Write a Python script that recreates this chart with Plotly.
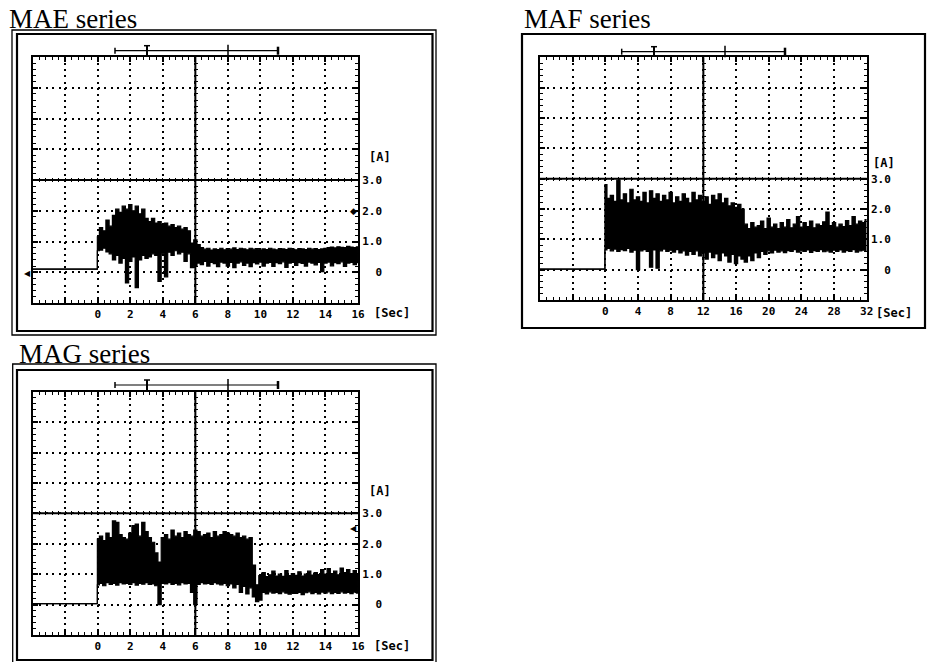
#!/usr/bin/env python3
"""
Motor current recorded for the MAE, MAF and MAG series.
Three scope screens redrawn with Plotly: the trace is kept as its
peak / valley envelope and filled black, like the dense scope sampling.
"""

import plotly.graph_objects as go

W, H = 928, 662

# sample times [Sec] after switch-on
SEC16 = [0.0, 0.2, 0.4, 0.6, 0.8, 1.0, 1.2, 1.4, 1.6, 1.8,
         2.0, 2.2, 2.4, 2.6, 2.8, 3.0, 3.2, 3.4, 3.6, 3.8,
         4.0, 4.2, 4.4, 4.6, 4.8, 5.0, 5.2, 5.4, 5.6, 5.8,
         6.0, 6.2, 6.4, 6.6, 6.8, 7.0, 7.2, 7.4, 7.6, 7.8,
         8.0, 8.2, 8.4, 8.6, 8.8, 9.0, 9.2, 9.4, 9.6, 9.8,
         10.0, 10.2, 10.4, 10.6, 10.8, 11.0, 11.2, 11.4, 11.6, 11.8,
         12.0, 12.2, 12.4, 12.6, 12.8, 13.0, 13.2, 13.4, 13.6, 13.8,
         14.0, 14.2, 14.4, 14.6, 14.8, 15.0, 15.2, 15.4, 15.6, 15.8,
         16.0]
SEC32 = [0.0, 0.4, 0.8, 1.2, 1.6, 2.0, 2.4, 2.8, 3.2, 3.6,
         4.0, 4.4, 4.8, 5.2, 5.6, 6.0, 6.4, 6.8, 7.2, 7.6,
         8.0, 8.4, 8.8, 9.2, 9.6, 10.0, 10.4, 10.8, 11.2, 11.6,
         12.0, 12.4, 12.8, 13.2, 13.6, 14.0, 14.4, 14.8, 15.2, 15.6,
         16.0, 16.4, 16.8, 17.2, 17.6, 18.0, 18.4, 18.8, 19.2, 19.6,
         20.0, 20.4, 20.8, 21.2, 21.6, 22.0, 22.4, 22.8, 23.2, 23.6,
         24.0, 24.4, 24.8, 25.2, 25.6, 26.0, 26.4, 26.8, 27.2, 27.6,
         28.0, 28.4, 28.8, 29.2, 29.6, 30.0, 30.4, 30.8, 31.2, 31.6,
         32.0]

# MAE series [A]
MAE_PRE_T = [-4.0, -0.05]
MAE_PRE = [0.10, 0.10]
MAE_HI = [1.15, 1.45, 1.35, 1.70, 1.50, 1.85, 2.05, 1.95, 2.15, 2.05,
          2.20, 2.00, 2.15, 1.90, 2.05, 1.75, 1.65, 1.75, 1.60, 1.65,
          1.55, 1.60, 1.50, 1.55, 1.45, 1.50, 1.40, 1.45, 1.35, 0.95,
          1.05, 0.90, 0.80, 0.75, 0.78, 0.72, 0.76, 0.74, 0.78, 0.73,
          0.77, 0.75, 0.79, 0.74, 0.78, 0.76, 0.73, 0.78, 0.75, 0.77,
          0.72, 0.76, 0.74, 0.78, 0.75, 0.73, 0.77, 0.76, 0.74, 0.78,
          0.75, 0.73, 0.77, 0.76, 0.74, 0.78, 0.75, 0.77, 0.74, 0.76,
          0.78, 0.80, 0.82, 0.79, 0.83, 0.81, 0.80, 0.84, 0.82, 0.80,
          0.83]
MAE_LO = [0.70, 0.72, 0.78, 0.66, 0.60, 0.40, 0.55, 0.30, 0.45, -0.35,
          0.35, 0.50, -0.50, 0.40, 0.55, 0.45, 0.50, 0.60, 0.55, -0.30,
          0.60, -0.15, 0.65, 0.55, 0.70, 0.60, 0.65, 0.35, 0.60, 0.15,
          0.20, 0.30, 0.25, 0.35, 0.20, 0.32, 0.28, 0.18, 0.33, 0.30,
          0.20, 0.32, 0.15, 0.30, 0.34, 0.22, 0.30, 0.18, 0.31, 0.27,
          0.33, 0.20, 0.30, 0.32, 0.19, 0.31, 0.28, 0.34, 0.16, 0.30,
          0.32, 0.22, 0.31, 0.29, 0.20, 0.33, 0.30, 0.24, 0.32, 0.02,
          0.30, 0.33, 0.21, 0.31, 0.28, 0.34, 0.19, 0.30, 0.32, 0.25,
          0.31]

# MAF series [A]
MAF_PRE_T = [-8.0, -0.1]
MAF_PRE = [0.02, 0.02]
MAF_HI = [2.80, 2.35, 2.45, 2.25, 2.95, 2.30, 2.50, 2.20, 2.65, 2.30,
          2.40, 2.25, 2.55, 2.20, 2.60, 2.35, 2.50, 2.25, 2.45, 2.30,
          2.55, 2.20, 2.40, 2.25, 2.50, 2.35, 2.20, 2.55, 2.30, 2.45,
          2.25, 2.40, 2.15, 2.45, 2.30, 2.50, 2.20, 2.35, 2.10, 2.20,
          2.05, 2.15, 2.00, 1.50, 1.35, 1.55, 1.40, 1.45, 1.60, 1.35,
          1.70, 1.40, 1.50, 1.35, 1.55, 1.40, 1.65, 1.38, 1.50, 1.75,
          1.40, 1.55, 1.42, 1.60, 1.38, 1.50, 1.45, 1.58, 1.90, 1.45,
          1.55, 1.40, 1.50, 1.42, 1.62, 1.45, 1.75, 1.50, 1.60, 1.55,
          1.65]
MAF_LO = [0.65, 0.70, 0.62, 0.68, 0.60, 0.66, 0.63, 0.70, 0.58, 0.64,
          0.00, 0.62, 0.66, 0.60, 0.08, 0.65, 0.05, 0.62, 0.68, 0.60,
          0.64, 0.58, 0.66, 0.55, 0.62, 0.48, 0.60, 0.50, 0.62, 0.45,
          0.55, 0.35, 0.58, 0.40, 0.52, 0.30, 0.55, 0.45, 0.25, 0.50,
          0.20, 0.45, 0.35, 0.25, 0.45, 0.30, 0.55, 0.40, 0.60, 0.50,
          0.62, 0.55, 0.64, 0.58, 0.62, 0.56, 0.63, 0.60, 0.66, 0.58,
          0.62, 0.60, 0.65, 0.57, 0.63, 0.60, 0.66, 0.59, 0.62, 0.58,
          0.64, 0.60, 0.65, 0.58, 0.63, 0.60, 0.66, 0.58, 0.62, 0.64,
          0.60]

# MAG series [A]
MAG_PRE_T = [-4.0, -0.05]
MAG_PRE = [0.03, 0.03]
MAG_HI = [2.15, 2.25, 2.10, 2.35, 2.20, 2.75, 2.70, 2.30, 2.20, 2.15,
          2.35, 2.60, 2.65, 2.25, 2.70, 2.40, 2.20, 2.05, 1.70, 1.40,
          2.20, 2.30, 2.15, 2.45, 2.25, 2.35, 2.20, 2.40, 2.30, 2.25,
          2.45, 2.40, 2.25, 2.30, 2.35, 2.20, 2.40, 2.25, 2.30, 2.40,
          2.35, 2.30, 2.25, 2.35, 2.20, 2.25, 2.15, 2.20, 1.30, 0.65,
          0.95, 1.05, 0.92, 0.98, 1.10, 0.94, 1.00, 0.93, 1.12, 0.95,
          1.02, 0.96, 1.08, 0.94, 1.00, 1.10, 0.97, 1.05, 0.99, 1.15,
          1.00, 1.18, 1.02, 1.10, 0.98, 1.20, 1.05, 1.15, 1.02, 1.12,
          1.00]
MAG_LO = [0.65, 0.70, 0.62, 0.72, 0.66, 0.70, 0.64, 0.72, 0.68, 0.70,
          0.66, 0.72, 0.64, 0.70, 0.67, 0.72, 0.66, 0.68, 0.62, 0.00,
          0.70, 0.68, 0.72, 0.66, 0.70, 0.65, 0.72, 0.68, 0.70, 0.40,
          0.00, 0.66, 0.72, 0.68, 0.70, 0.66, 0.72, 0.68, 0.65, 0.70,
          0.62, 0.68, 0.55, 0.66, 0.40, 0.60, 0.35, 0.55, 0.25, 0.10,
          0.15, 0.40, 0.35, 0.42, 0.38, 0.40, 0.36, 0.42, 0.38, 0.34,
          0.41, 0.37, 0.40, 0.33, 0.39, 0.42, 0.36, 0.40, 0.35, 0.41,
          0.38, 0.42, 0.36, 0.40, 0.37, 0.42, 0.38, 0.40, 0.36, 0.41,
          0.38]

# axis ticks
X16_TICKS = [-4, -2, 0, 2, 4, 6, 8, 10, 12, 14, 16]
X16_LABELS = ['', '', '0', '2', '4', '6', '8', '10', '12', '14', '16']
X32_TICKS = [-8, -4, 0, 4, 8, 12, 16, 20, 24, 28, 32]
X32_LABELS = ['', '', '0', '4', '8', '12', '16', '20', '24', '28', '32']
Y_TICKS = [-1, 0, 1, 2, 3, 4, 5, 6, 7]
Y_LABELS = ['', '\u00a0\u00a00', '1.0', '2.0', '3.0', '', '', '', '']
Y_CENTER = 3

SCOPE_FONT = dict(family='DejaVu Sans Mono', size=11, color='black', weight='bold')
UNIT_FONT = dict(family='DejaVu Sans Mono', size=12, color='black', weight='bold')
TITLE_FONT = dict(family='Liberation Serif', size=27, color='black')

PANELS = [
    dict(title='MAE series', t=SEC16, pre_t=MAE_PRE_T, pre=MAE_PRE, hi=MAE_HI, lo=MAE_LO,
         xticks=X16_TICKS, xlabels=X16_LABELS,
         box=(32.7, 57.0, 358.0, 303.0), title_xy=(7, 19.5), sec_xy=(372, 313), amp_xy=(380, 157),
         frame=[(12, 30, 436, 335, 1.3), (17, 34, 432.5, 331, 2.2)], bracket_y=50.7,
         bracket_x=(115, 147, 228, 278)),
    dict(title='MAF series', t=SEC32, pre_t=MAF_PRE_T, pre=MAF_PRE, hi=MAF_HI, lo=MAF_LO,
         xticks=X32_TICKS, xlabels=X32_LABELS,
         box=(540.0, 57.3, 866.7, 300.0), title_xy=(522, 19.5), sec_xy=(874, 313), amp_xy=(884, 163),
         frame=[(522, 34, 925, 328, 2.2)], bracket_y=51.7,
         bracket_x=(621.7, 654, 725, 785)),
    dict(title='MAG series', t=SEC16, pre_t=MAG_PRE_T, pre=MAG_PRE, hi=MAG_HI, lo=MAG_LO,
         xticks=X16_TICKS, xlabels=X16_LABELS,
         box=(32.7, 391.7, 358.0, 635.0), title_xy=(17, 353.5), sec_xy=(372, 646), amp_xy=(380, 491),
         frame=[(12.7, 364, 436, 666, 1.3), (17, 370, 432.5, 660, 2.2)], bracket_y=385,
         bracket_x=(115, 147, 228, 278)),
]


def px(x):
    return x / W


def py(y):
    return 1 - y / H


fig = go.Figure()
layout = {}
shapes = []
annotations = []

for i, p in enumerate(PANELS, start=1):
    sfx = '' if i == 1 else str(i)
    xr, yr = 'x' + sfx, 'y' + sfx
    bx0, by0, bx1, by1 = p['box']
    xdom = [px(bx0), px(bx1)]
    ydom = [py(by1), py(by0)]
    xrange = [p['xticks'][0], p['xticks'][-1]]
    yrange = [Y_TICKS[0], Y_TICKS[-1]]
    xstep = p['xticks'][1] - p['xticks'][0]
    xdiv_px = (bx1 - bx0) / (len(p['xticks']) - 1)
    ydiv_px = (by1 - by0) / (len(Y_TICKS) - 1)

    t = p['pre_t'] + p['t']
    lo = p['pre'] + p['lo']
    hi = p['pre'] + p['hi']
    # step shape: every sample becomes a short vertical streak, like the scope trace
    fig.add_trace(go.Scatter(x=t, y=lo, xaxis=xr, yaxis=yr, mode='lines',
                             line=dict(color='black', width=1.2, shape='hvh'),
                             hoverinfo='skip', showlegend=False))
    fig.add_trace(go.Scatter(x=t, y=hi, xaxis=xr, yaxis=yr, mode='lines', fill='tonexty',
                             fillcolor='black', line=dict(color='black', width=1.2, shape='hvh'),
                             hoverinfo='skip', showlegend=False))

    layout['xaxis' + sfx] = dict(
        domain=xdom, range=xrange, anchor=yr,
        tickmode='array', tickvals=p['xticks'], ticktext=p['xlabels'],
        ticks='inside', ticklen=5, tickwidth=1.5, tickcolor='black',
        showline=True, linewidth=2, linecolor='black', mirror='ticks',
        showgrid=True, gridcolor='black', gridwidth=1.5,
        griddash='2px,%.2fpx' % (ydiv_px / 5 - 2),
        minor=dict(tickmode='linear', tick0=0, dtick=xstep / 5, ticks='inside', ticklen=3,
                   tickwidth=1, tickcolor='black', showgrid=False),
        zeroline=False, tickfont=SCOPE_FONT, fixedrange=True, automargin=False)
    layout['yaxis' + sfx] = dict(
        domain=ydom, range=yrange, anchor=xr, side='right',
        tickmode='array', tickvals=Y_TICKS, ticktext=Y_LABELS,
        ticks='inside', ticklen=5, tickwidth=1.5, tickcolor='black',
        showline=True, linewidth=2, linecolor='black', mirror='ticks',
        showgrid=True, gridcolor='black', gridwidth=1.5,
        griddash='2px,%.2fpx' % (xdiv_px / 5 - 2),
        minor=dict(tickmode='linear', tick0=0, dtick=0.2, ticks='inside', ticklen=3,
                   tickwidth=1, tickcolor='black', showgrid=False),
        zeroline=False, tickfont=SCOPE_FONT, fixedrange=True, automargin=False)

    # solid centre cross of the screen, with its own small ticks (two free axes)
    xc = (xrange[0] + xrange[1]) / 2
    cx = xdom[0] + (xc - xrange[0]) / (xrange[1] - xrange[0]) * (xdom[1] - xdom[0])
    cy = ydom[0] + (Y_CENTER - yrange[0]) / (yrange[1] - yrange[0]) * (ydom[1] - ydom[0])
    j = str(i + 3)
    layout['xaxis' + j] = dict(
        overlaying=xr, anchor='free', position=cy - 2 / H, range=xrange,
        tickmode='linear', tick0=0, dtick=xstep / 5, ticks='inside', ticklen=4, tickwidth=1,
        tickcolor='black', showticklabels=False, showgrid=False, zeroline=False, showline=False,
        fixedrange=True, automargin=False)
    layout['yaxis' + j] = dict(
        overlaying=yr, anchor='free', position=cx - 2 / W, side='left', range=yrange,
        tickmode='linear', tick0=0, dtick=0.2, ticks='inside', ticklen=4, tickwidth=1,
        tickcolor='black', showticklabels=False, showgrid=False, zeroline=False, showline=False,
        fixedrange=True, automargin=False)
    # invisible traces so the two tick axes get drawn
    fig.add_trace(go.Scatter(x=[xc], y=[Y_CENTER], xaxis='x' + j, yaxis=yr, mode='markers',
                             marker=dict(opacity=0), hoverinfo='skip', showlegend=False))
    fig.add_trace(go.Scatter(x=[xc], y=[Y_CENTER], xaxis=xr, yaxis='y' + j, mode='markers',
                             marker=dict(opacity=0), hoverinfo='skip', showlegend=False))
    shapes.append(dict(type='line', xref=xr, yref=yr + ' domain', x0=xc, x1=xc, y0=0, y1=1,
                       line=dict(color='black', width=2)))
    shapes.append(dict(type='line', xref=xr + ' domain', yref=yr, x0=0, x1=1, y0=Y_CENTER, y1=Y_CENTER,
                       line=dict(color='black', width=2)))

    # screen frame(s)
    for (fx0, fy0, fx1, fy1, lw) in p['frame']:
        shapes.append(dict(type='rect', xref='paper', yref='paper', x0=px(fx0), x1=px(fx1),
                           y0=py(fy1), y1=py(fy0), line=dict(color='black', width=lw)))

    # memory bar above the screen
    bl, bt, bm, br = p['bracket_x']
    yb = p['bracket_y']
    for (xa0, ya0, xa1, ya1, lw) in [(bl, yb, br, yb, 1.2), (bl, yb - 3, bl, yb + 3, 1.5),
                                     (br, yb - 4, br, yb + 4, 2.5), (bm, yb - 6, bm, by0, 1.5),
                                     (bt, yb - 5, bt, yb + 5, 2), (bt - 3, yb - 5, bt + 3, yb - 5, 1.5)]:
        shapes.append(dict(type='line', xref='paper', yref='paper', x0=px(xa0), x1=px(xa1),
                           y0=py(ya0), y1=py(ya1), line=dict(color='black', width=lw)))

    tx, ty = p['title_xy']
    annotations.append(dict(text=p['title'], xref='paper', yref='paper', x=px(tx), y=py(ty),
                            xanchor='left', yanchor='middle', showarrow=False, font=TITLE_FONT))
    sx, sy = p['sec_xy']
    annotations.append(dict(text='[Sec]', xref='paper', yref='paper', x=px(sx), y=py(sy),
                            xanchor='left', yanchor='middle', showarrow=False, font=UNIT_FONT))
    ax_, ay_ = p['amp_xy']
    annotations.append(dict(text='[A]', xref='paper', yref='paper', x=px(ax_), y=py(ay_),
                            xanchor='center', yanchor='middle', showarrow=False, font=UNIT_FONT))

# level markers on the screen edges
annotations += [
    dict(text='\u25c0', xref='x domain', yref='y', x=0, y=0, xanchor='right', yanchor='middle',
         showarrow=False, font=dict(size=8, color='black')),
    dict(text='\u25c6', xref='x domain', yref='y', x=0.985, y=2, xanchor='center', yanchor='middle',
         showarrow=False, font=dict(size=9, color='black')),
    dict(text='\u25c0', xref='x3 domain', yref='y3', x=0.985, y=2.55, xanchor='center', yanchor='middle',
         showarrow=False, font=dict(size=8, color='black')),
]

fig.update_layout(
    width=W, height=H, autosize=False,
    margin=dict(l=0, r=0, t=0, b=0, autoexpand=False),
    paper_bgcolor='white', plot_bgcolor='white',
    showlegend=False, hovermode=False,
    shapes=shapes, annotations=annotations,
    **layout,
)

# the page's default body margin would push the 928x662 figure off the window
fig.write_html('out.html', config={'displayModeBar': False},
               post_script="document.body.style.margin='0';")
